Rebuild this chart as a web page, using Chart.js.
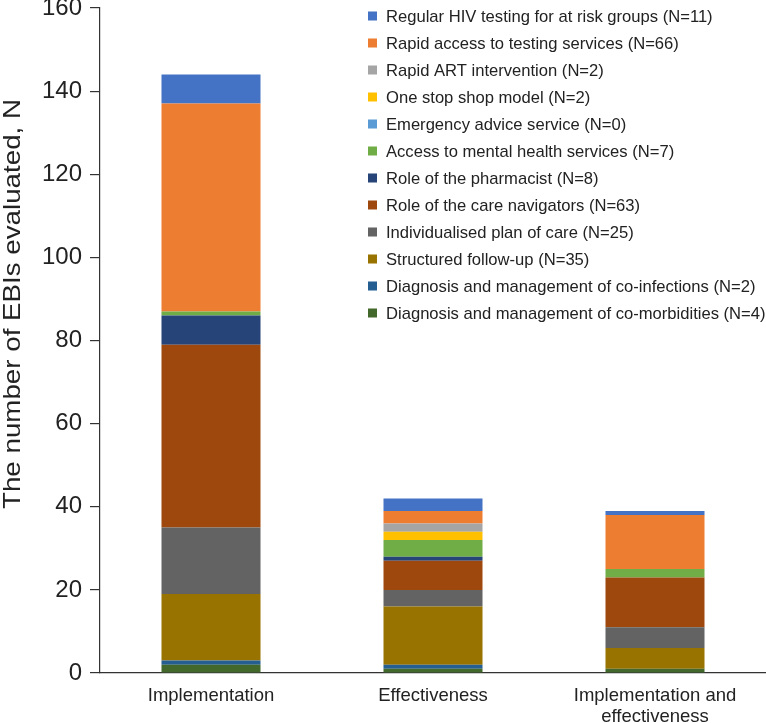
<!DOCTYPE html>
<html>
<head>
<meta charset="utf-8">
<script src="https://cdn.jsdelivr.net/npm/chart.js@4.4.1/dist/chart.umd.min.js"></script>
<style>
  html, body { margin: 0; padding: 0; background: #fff; }
  #wrap { position: relative; width: 766px; height: 723px; }
</style>
</head>
<body>
<div id="wrap"><canvas id="c" width="766" height="723"></canvas></div>
<script>
// Categories (x-axis)
const categories = ["Implementation", "Effectiveness", ["Implementation and", "effectiveness"]];

// Series names (bottom of stack first)
const seriesNames = [
  "Diagnosis and management of co-morbidities (N=4)",
  "Diagnosis and management of co-infections (N=2)",
  "Structured follow-up (N=35)",
  "Individualised plan of care (N=25)",
  "Role of the care navigators (N=63)",
  "Role of the pharmacist (N=8)",
  "Access to mental health services (N=7)",
  "Emergency advice service (N=0)",
  "One stop shop model (N=2)",
  "Rapid ART intervention (N=2)",
  "Rapid access to testing services (N=66)",
  "Regular HIV testing for at risk groups (N=11)"
];

// Values per series: [Implementation, Effectiveness, Implementation and effectiveness]
const coMorbidities   = [2, 1, 1];
const coInfections    = [1, 1, 0];
const structuredFU    = [16, 14, 5];
const individualised  = [16, 4, 5];
const careNavigators  = [44, 7, 12];
const pharmacist      = [7, 1, 0];
const mentalHealth    = [1, 4, 2];
const emergencyAdvice = [0, 0, 0];
const oneStopShop     = [0, 2, 0];
const rapidART        = [0, 2, 0];
const rapidAccess     = [50, 3, 13];
const regularTesting  = [7, 3, 1];

const seriesValues = [coMorbidities, coInfections, structuredFU, individualised, careNavigators,
  pharmacist, mentalHealth, emergencyAdvice, oneStopShop, rapidART, rapidAccess, regularTesting];

const seriesColors = ["#43682B", "#255E91", "#997300", "#636363", "#9E480E",
  "#264478", "#70AD47", "#5B9BD5", "#FFC000", "#A5A5A5", "#ED7D31", "#4472C4"];

// Y-axis ticks and title
const yTicks = [0, 20, 40, 60, 80, 100, 120, 140, 160];
const yTitle = "The number of EBIs evaluated, N";

const datasets = seriesNames.map((name, i) => ({
  label: name,
  data: seriesValues[i],
  backgroundColor: seriesColors[i],
  borderWidth: 0,
  categoryPercentage: 1.0,
  barPercentage: 0.446
}));

const FONT = "'Liberation Sans', Arial, Helvetica, sans-serif";

const legendPlugin = {
  id: 'customLegend',
  afterDraw(chart) {
    const ctx = chart.ctx;
    ctx.save();
    ctx.font = "16.6px " + FONT;
    ctx.textBaseline = 'middle';
    ctx.textAlign = 'left';
    const n = chart.data.datasets.length;
    for (let k = 0; k < n; k++) {
      const ds = chart.data.datasets[n - 1 - k];
      const y = 16 + k * 27;
      ctx.fillStyle = ds.backgroundColor;
      ctx.fillRect(368, y - 4.5, 9, 9);
      ctx.fillStyle = '#222';
      ctx.fillText(ds.label, 386, y + 1);
    }
    // y-axis title
    ctx.font = "24px " + FONT;
    const w = ctx.measureText(yTitle).width;
    ctx.translate(13, 304);
    ctx.rotate(-Math.PI / 2);
    ctx.scale(410 / w, 1);
    ctx.textAlign = 'center';
    ctx.fillStyle = '#222';
    ctx.fillText(yTitle, 0, 0);
    ctx.restore();
  }
};

new Chart(document.getElementById('c'), {
  type: 'bar',
  data: { labels: categories, datasets },
  plugins: [legendPlugin],
  options: {
    responsive: false,
    animation: false,
    layout: { padding: { left: 0, right: 0, top: 0, bottom: 0 } },
    plugins: { legend: { display: false }, tooltip: { enabled: false } },
    scales: {
      x: {
        stacked: true,
        afterFit: (scale) => { scale.height = 50; },
        grid: { display: false },
        border: { display: true, color: '#333', width: 1.2 },
        ticks: { color: '#222', font: { family: FONT, size: 18.5, lineHeight: 1.15 }, padding: 4, maxRotation: 0, autoSkip: false }
      },
      y: {
        stacked: true,
        min: 0, max: 160,
        afterBuildTicks: (scale) => { scale.ticks = yTicks.map(v => ({ value: v })); },
        afterFit: (scale) => { scale.width = 100; scale.paddingTop = 8; },
        grid: { drawOnChartArea: false, drawTicks: true, tickLength: 10, color: '#333', lineWidth: 1.2 },
        border: { display: true, color: '#333', width: 1.2 },
        ticks: { color: '#222', font: { family: FONT, size: 24 }, padding: 8 },
        title: { display: false }
      }
    }
  }
});
</script>
</body>
</html>
